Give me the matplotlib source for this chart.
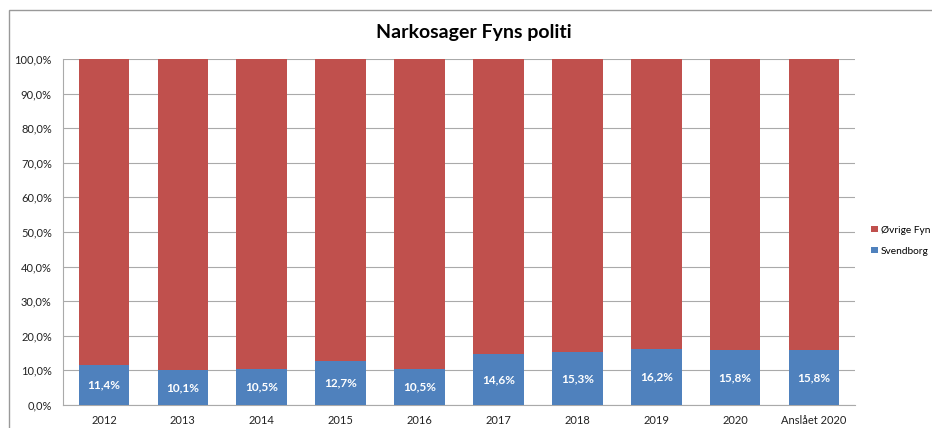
import matplotlib
matplotlib.use("Agg")
import matplotlib.pyplot as plt
import numpy as np
from matplotlib.patches import Rectangle
from matplotlib.ticker import FuncFormatter

plt.rcParams['font.family'] = ['Lato', 'DejaVu Sans']

# share of drug cases, Svendborg vs rest of Funen (percent)
years = ['2012', '2013', '2014', '2015', '2016', '2017', '2018', '2019',
         '2020', 'Anslået 2020']
svendborg = [11.4, 10.1, 10.5, 12.7, 10.5, 14.6, 15.3, 16.2, 15.8, 15.8]
ovrige = [100 - v for v in svendborg]

blue = '#4F81BD'
red = '#C0504D'

fig = plt.figure(figsize=(9.32, 4.28), dpi=100)
ax = fig.add_axes([0.0675, 0.054, 0.85, 0.808])

x = np.arange(len(years))
ax.bar(x, svendborg, width=0.64, color=blue, label='Svendborg', zorder=3)
ax.bar(x, ovrige, width=0.64, bottom=svendborg, color=red,
       label='Øvrige Fyn', zorder=3)

for xi, v in zip(x, svendborg):
    ax.text(xi, v / 2, f'{v:.1f}%'.replace('.', ','), ha='center',
            va='center', color='white', fontsize=8.5, fontweight='bold',
            zorder=4)

ax.set_ylim(0, 100)
ax.set_xlim(-0.52, len(years) - 0.48)
ax.set_yticks(np.arange(0, 101, 10))
ax.yaxis.set_major_formatter(
    FuncFormatter(lambda v, p: f'{v:.1f}%'.replace('.', ',')))
ax.set_xticks(x)
ax.set_xticklabels(years)
ax.tick_params(axis='both', length=0, labelsize=8, colors='#222222')
ax.tick_params(axis='y', pad=8)
ax.tick_params(axis='x', pad=7)

ax.grid(axis='y', color='#AAAAAA', linewidth=0.8, zorder=0)
for s in ['top', 'right']:
    ax.spines[s].set_visible(False)
for s in ['left', 'bottom']:
    ax.spines[s].set_color('#AAAAAA')
    ax.spines[s].set_linewidth(0.8)

handles, labels = ax.get_legend_handles_labels()
ax.legend(handles[::-1], labels[::-1], loc='center left',
          bbox_to_anchor=(1.013, 0.475), frameon=False, fontsize=7.3,
          handlelength=0.6, handleheight=0.6, handletextpad=0.35,
          labelspacing=1.2, borderaxespad=0.2)

fig.text(0.508, 0.925, 'Narkosager Fyns politi', ha='center', va='center',
         fontsize=14, fontweight='bold')

# outer chart border
fig.patches.append(Rectangle((0.0097, -0.01), 1.0, 0.987,
                             transform=fig.transFigure, fill=False,
                             edgecolor='#999999', linewidth=1.0))

fig.savefig('out.png', dpi=100)
